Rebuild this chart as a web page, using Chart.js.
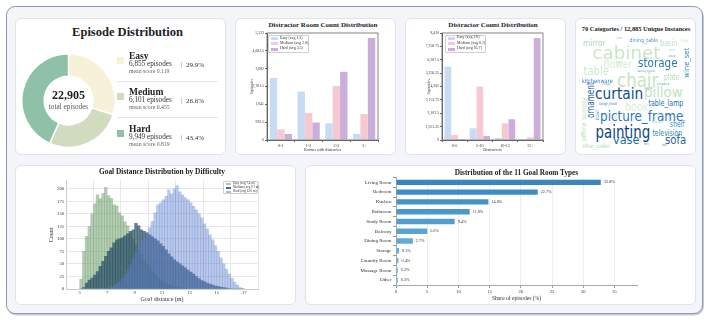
<!DOCTYPE html>
<html>
<head>
<meta charset="UTF-8">
<title>Episode Dataset Overview</title>
<script src="https://cdn.jsdelivr.net/npm/chart.js@4.4.1/dist/chart.umd.min.js"></script>
<style>
  html, body { margin: 0; padding: 0; }
  body { width: 710px; height: 321px; position: relative; overflow: hidden; background: #fff;
         font-family: 'Liberation Serif', 'Times New Roman', serif; color: #222; }
  .frame { position: absolute; left: 6px; top: 6px; width: 697px; height: 308px; box-sizing: border-box;
           border: 1.5px solid #8d9cb0; border-radius: 9px; background: #f3f5f8; box-shadow: 1px 1.5px 0 #c3ccd6; }
  .panel { position: absolute; box-sizing: border-box; background: #fff; border: 1px solid #dfe4ea; border-radius: 6px; }
  .box { position: absolute; }
  .t { position: absolute; white-space: nowrap; line-height: 1; }
  .legend { position: absolute; box-sizing: border-box; background: rgba(255,255,255,0.85); border: 0.6px solid #cfcfcf; border-radius: 1px; }
  .sw { position: absolute; }
  .word { position: absolute; white-space: nowrap; line-height: 1; font-family: 'DejaVu Sans', sans-serif; transform-origin: center center; }
</style>
</head>
<body>
<div class="frame"></div>
<div class="panel" style="left:15px;top:18px;width:211px;height:137px"></div>
<div class="panel" style="left:235px;top:18px;width:161px;height:137px"></div>
<div class="panel" style="left:405px;top:18px;width:161px;height:137px"></div>
<div class="panel" style="left:575px;top:18px;width:121px;height:137px"></div>
<div class="panel" style="left:15px;top:165px;width:281px;height:140px"></div>
<div class="panel" style="left:305px;top:165px;width:391px;height:140px"></div>

<div class="box" style="left:21px;top:53px;width:95px;height:95px"><canvas id="donut"></canvas></div>
<div class="box" style="left:249px;top:29px;width:134px;height:124px"><canvas id="roomChart"></canvas></div>
<div class="box" style="left:426px;top:29px;width:122px;height:124px"><canvas id="distChart"></canvas></div>
<div class="box" style="left:48px;top:176px;width:214px;height:128px"><canvas id="goalChart"></canvas></div>
<div class="box" style="left:350px;top:173px;width:295px;height:131px"><canvas id="typeChart"></canvas></div>

<script>
// ---- data ----
var difficulties = ['Easy', 'Medium', 'Hard'];
var episodeCounts = [6855, 6101, 9949];
var episodeShares = [29.9, 26.6, 43.4];
var meanScores = [0.119, 0.455, 0.819];
var totalEpisodes = 22905;

var roomBins = ['0-1', '1-2', '2-3', '3+'];
var roomEasy = [3200, 2500, 860, 310];
var roomMedium = [550, 1400, 2790, 1340];
var roomHard = [310, 900, 3520, 5260];
var roomAvg = [1.3, 2.0, 3.5];

var distBins = ['0-5', '5-10', '10-15', '15+'];
var distEasy = [5770, 920, 160, 10];
var distMedium = [390, 4200, 1310, 210];
var distHard = [80, 310, 1630, 8010];
var distAvg = [2.6, 8.1, 16.7];

var goalBinCenters = [5.1, 5.3, 5.5, 5.7, 5.9, 6.1, 6.3, 6.5, 6.7, 6.9,
  7.1, 7.3, 7.5, 7.7, 7.9, 8.1, 8.3, 8.5, 8.7, 8.9,
  9.1, 9.3, 9.5, 9.7, 9.9, 10.1, 10.3, 10.5, 10.7, 10.9,
  11.1, 11.3, 11.5, 11.7, 11.9, 12.1, 12.3, 12.5, 12.7, 12.9,
  13.1, 13.3, 13.5, 13.7, 13.9, 14.1, 14.3, 14.5, 14.7, 14.9,
  15.1, 15.3, 15.5, 15.7, 15.9, 16.1, 16.3, 16.5, 16.7, 16.9];
var goalEasy = [20, 75, 105, 125, 150, 170, 188, 180, 191, 203,
  186, 181, 168, 166, 152, 146, 134, 126, 112, 100,
  88, 78, 68, 58, 50, 42, 35, 29, 24, 19,
  15, 12, 9, 7, 5, 4, 3, 2, 1, 1,
  0, 0, 0, 0, 0, 0, 0, 0, 0, 0,
  0, 0, 0, 0, 0, 0, 0, 0, 0, 0];
var goalMedium = [0, 3, 12, 18, 22, 28, 35, 45, 55, 65,
  75, 82, 92, 98, 100, 102, 106, 110, 115, 118,
  131, 126, 118, 115, 112, 108, 104, 100, 96, 90,
  85, 78, 70, 64, 58, 54, 50, 46, 42, 38,
  34, 30, 25, 21, 17, 15, 12, 10, 8, 6,
  5, 4, 3, 2, 1, 0, 0, 0, 0, 0];
var goalHard = [0, 0, 0, 0, 0, 0, 0, 0, 0, 0,
  2, 4, 6, 10, 14, 20, 28, 36, 48, 60,
  72, 82, 92, 100, 112, 122, 135, 152, 168, 172,
  178, 185, 198, 190, 200, 206, 194, 188, 182, 178,
  172, 165, 158, 150, 142, 130, 120, 108, 98, 86,
  75, 62, 50, 40, 30, 22, 14, 8, 3, 1];
var goalAvg = [7.4, 9.7, 12.0];

var roomTypes = ['Living Room', 'Bedroom', 'Kitchen', 'Bathroom', 'Study Room', 'Balcony',
  'Dining Room', 'Storage', 'Laundry Room', 'Massage Room', 'Other'];
var roomTypeShare = [32.8, 22.7, 14.8, 11.8, 9.4, 5.0, 2.7, 0.5, 0.4, 0.3, 0.3];

var cloudWords = ['cabinet', 'chair', 'painting', 'curtain', 'picture_frame', 'pillow', 'storage',
  'table', 'flower', 'book', 'vase', 'sofa', 'ornament', 'table_lamp', 'mirror', 'television',
  'shelf', 'basin', 'plate', 'wine_set', 'kitchenware', 'office supply', 'other_cooker',
  'dining_table', 'range_hood', 'bowl', 'tea_set', 'tray', 'fork', 'bed', 'cook', 'desk',
  'spoon', 'chopstick', 'fridge', 'washing_machine', 'stool', 'box'];

// ---- styles ----
var donutColors = ['#f8f1d9', '#d1dbbf', '#8ec1a7'];
var pastel = ['#c7dcf3', '#f5c8d2', '#c9afd9'];
var histColors = ['rgba(103,153,101,0.5)', 'rgba(40,75,100,0.7)', 'rgba(90,125,205,0.42)'];
var legendHist = ['#a9c8a8', '#4a6d8c', '#a9bce4'];
var typeColors = ['#3a84bf', '#3f8bc3', '#4692c7', '#4d98ca', '#549ece', '#5ba3d1',
  '#63a9d4', '#6aaed6', '#72b2d8', '#79b6da', '#80badc'];

// placement of each cloud word: [centre x, centre y, length, font px, colour, vertical]
var cloudPlacement = [
  [626, 54, 68, 18, '#c9e7c6'], [637.5, 81, 41, 19, '#c6e5c3'], [622.5, 133, 55, 18, '#0b437f'],
  [619, 95, 48, 16, '#0d4f8e'], [641.5, 117, 83, 14, '#2b78b7'], [663.5, 93, 39, 14, '#c2e3c1'],
  [658, 64, 40, 12, '#2a78b6'], [595.5, 72, 25, 12, '#d0e9ce'], [617.5, 65, 29, 11, '#d4ecd1'],
  [636.5, 108, 23, 12, '#d9efd6'], [626, 140, 26, 13, '#1d67a8'], [675.5, 140, 21, 13, '#1d67a8'],
  [591.5, 100, 36, 10, '#1a5c9e', true], [665.5, 104, 35, 9, '#2673b3'], [594, 44, 22, 8, '#a9d7b6'],
  [667, 134, 30, 8, '#2f84bd'], [677, 125, 14, 8.5, '#3088be'], [668.5, 44, 17, 8, '#bde1c2'],
  [672, 78, 16, 8.5, '#b5dcbb'], [686.5, 63, 30, 7.5, '#3b8ec1', true], [597.5, 81, 31, 6, '#2f7db8'],
  [584, 120, 44, 6.5, '#b9deb9', true], [596, 146, 28, 6, '#b5dcb7'], [643.5, 41, 29, 5.5, '#4a98c3'],
  [608, 104, 18, 4, '#3a86bd'], [598, 115, 10, 4.5, '#4b9ac4', true], [657.5, 123, 11, 3.5, '#a9d5b3'],
  [684, 41, 8, 4, '#c9e6c6'], [646.5, 145, 5, 3.5, '#5aa4c9'], [664, 146, 5, 3.5, '#5aa4c9'],
  [619, 39, 6, 3, '#9bcfb0'], [672, 57, 7, 3, '#5aa4c9'], [648, 89, 8, 3, '#4a98c3'],
  [663, 85, 12, 3, '#4a98c3'], [606, 85, 8, 3, '#5aa4c9'], [646, 72, 18, 3, '#5aa4c9'],
  [619, 63, 7, 3, '#a9d5b3'], [672, 51, 5, 3, '#a9d5b3']
];

// ---- html helpers ----
function label(text, x, cy, size, opts) {
  opts = opts || {};
  var d = document.createElement('div');
  d.className = 't';
  d.textContent = text;
  d.style.left = x + 'px';
  d.style.top = cy + 'px';
  d.style.fontSize = size + 'px';
  d.style.transform = opts.center ? 'translate(-50%,-50%)' : 'translateY(-50%)';
  if (opts.bold) d.style.fontWeight = 'bold';
  if (opts.color) d.style.color = opts.color;
  document.body.appendChild(d);
  return d;
}
function rect(x, y, w, h, color) {
  var d = document.createElement('div');
  d.className = 'sw';
  d.style.cssText = 'left:' + x + 'px;top:' + y + 'px;width:' + w + 'px;height:' + h + 'px;background:' + color;
  document.body.appendChild(d);
  return d;
}
function legendBox(x, y, w, h, names, colors, firstY, gap, fs, swW, swH) {
  var b = document.createElement('div');
  b.className = 'legend';
  b.style.cssText = 'left:' + x + 'px;top:' + y + 'px;width:' + w + 'px;height:' + h + 'px';
  document.body.appendChild(b);
  names.forEach(function(n, i) {
    var cy = firstY + i * gap;
    rect(x + 2.5, cy - swH / 2, swW, swH, colors[i]);
    label(n, x + swW + 5, cy, fs, {color: '#333'});
  });
}

// ---- titles ----
label('Episode Distribution', 127.5, 32, 12.5, {center: true, bold: true});
label('Distractor Room Count Distribution', 323, 25, 7, {center: true, bold: true});
label('Distractor Count Distribution', 493, 25, 7, {center: true, bold: true});
label('70 Categories / 12,885 Unique Instances', 636, 28.5, 6.4, {center: true, bold: true});
label('Goal Distance Distribution by Difficulty', 162, 172, 7.4, {center: true, bold: true});
label('Distribution of the 11 Goal Room Types', 516.5, 172.5, 7.3, {center: true, bold: true});

// ---- donut centre + legend ----
label(totalEpisodes.toLocaleString('en-US'), 68.5, 95, 12, {center: true, bold: true});
label('total episodes', 68.5, 108, 7.2, {center: true, color: '#555'});
var rowsY = [56.5, 93, 129.5];
difficulties.forEach(function(d, i) {
  var y = rowsY[i];
  rect(117, y, 7, 7, donutColors[i]);
  label(d, 129, y, 9.5, {bold: true});
  label(episodeCounts[i].toLocaleString('en-US') + ' episodes', 129, y + 8, 7.2, {color: '#333'});
  label('mean score ' + meanScores[i].toFixed(3), 129, y + 15, 5.8, {color: '#666'});
  rect(181, y + 5, 0.7, 6, '#cfcfcf');
  label(episodeShares[i].toFixed(1) + '%', 186, y + 8, 7, {color: '#333'});
  if (i < 2) rect(117, y + 24, 101, 0.8, '#e6e6e6');
});

legendBox(268, 35, 41, 18, difficulties.map(function(d, i) { return d + ' (avg ' + roomAvg[i].toFixed(1) + ')'; }),
  pastel, 38.6, 5.3, 3.9, 7, 3);
legendBox(445, 35, 41, 17.5, difficulties.map(function(d, i) { return d + ' (avg ' + distAvg[i].toFixed(1) + ')'; }),
  pastel, 38.4, 5.3, 3.9, 7, 3);
legendBox(223, 181, 35, 12.5, difficulties.map(function(d, i) { return d + ' (avg ' + goalAvg[i].toFixed(1) + ' m)'; }),
  legendHist, 184, 3.8, 3.2, 5, 2);

// ---- word cloud ----
cloudWords.forEach(function(w, i) {
  var p = cloudPlacement[i];
  var s = document.createElement('span');
  s.className = 'word';
  s.textContent = w;
  s.style.fontSize = p[3] + 'px';
  s.style.color = p[4];
  document.body.appendChild(s);
  var nat = s.offsetWidth || 1;
  s.style.left = (p[0] - nat / 2) + 'px';
  s.style.top = (p[1] - p[3] * 0.55) + 'px';
  s.style.transform = (p[5] ? 'rotate(-90deg) ' : '') + 'scaleX(' + (p[2] / nat) + ')';
});

// ---- charts ----
Chart.defaults.font.family = "'Liberation Serif', 'Times New Roman', serif";
Chart.defaults.color = '#333';
Chart.defaults.animation = false;
Chart.defaults.plugins.legend.display = false;
Chart.defaults.plugins.tooltip.enabled = false;

var boxFrame = {
  id: 'boxFrame',
  afterDraw: function(chart) {
    var a = chart.chartArea, ctx = chart.ctx;
    ctx.save();
    ctx.strokeStyle = '#666';
    ctx.lineWidth = 0.8;
    ctx.strokeRect(a.left, a.top, a.right - a.left, a.bottom - a.top);
    ctx.restore();
  }
};

var barValues = {
  id: 'barValues',
  afterDatasetsDraw: function(chart) {
    var ctx = chart.ctx;
    ctx.save();
    ctx.font = "4.2px 'Liberation Serif', serif";
    ctx.fillStyle = '#333';
    ctx.textBaseline = 'middle';
    chart.getDatasetMeta(0).data.forEach(function(bar, i) {
      ctx.fillText(roomTypeShare[i].toFixed(1) + '%', bar.x + 3, bar.y);
    });
    ctx.restore();
  }
};

new Chart('donut', {
  type: 'doughnut',
  data: {
    labels: difficulties,
    datasets: [{ data: episodeCounts, backgroundColor: donutColors, borderColor: '#fff', borderWidth: 1.5, hoverOffset: 0 }]
  },
  options: { responsive: true, maintainAspectRatio: false, cutout: '52%' }
});

function groupedBars(id, labels, series, yMax, xTitle, yWidth) {
  return new Chart(id, {
    type: 'bar',
    data: {
      labels: labels,
      datasets: series.map(function(d, i) {
        return { label: difficulties[i], data: d, backgroundColor: pastel[i], categoryPercentage: 0.8, barPercentage: 1 };
      })
    },
    options: {
      responsive: true, maintainAspectRatio: false,
      layout: { padding: { top: 4, right: 5 } },
      scales: {
        x: {
          grid: { drawOnChartArea: false, tickLength: 2, color: '#666' },
          border: { color: '#666' },
          ticks: { font: { size: 4.2 }, padding: 1 },
          title: { display: true, text: xTitle, font: { size: 4.2 }, padding: { top: 0, bottom: 1 } },
          afterFit: function(s) { s.height = 13; }
        },
        y: {
          min: 0, max: yMax,
          grid: { drawOnChartArea: false, tickLength: 2, color: '#666' },
          border: { color: '#666' },
          ticks: { stepSize: 1000, includeBounds: false, font: { size: 3.8 }, padding: 1,
                   callback: function(v) { return v.toLocaleString('en-US'); } },
          title: { display: true, text: 'Episodes', font: { size: 4.2 }, padding: 0 },
          afterFit: function(s) { s.width = yWidth; }
        }
      }
    },
    plugins: [boxFrame]
  });
}

groupedBars('roomChart', roomBins, [roomEasy, roomMedium, roomHard], 5523, 'Rooms with distractor', 18);
groupedBars('distChart', distBins, [distEasy, distMedium, distHard], 8410, 'Distractors', 16);

var goalSeries = [goalEasy, goalMedium, goalHard];
new Chart('goalChart', {
  type: 'bar',
  data: {
    datasets: goalSeries.map(function(vals, i) {
      return {
        label: difficulties[i],
        data: goalBinCenters.map(function(x, j) { return { x: x, y: vals[j] }; }),
        backgroundColor: histColors[i],
        order: 3 - i
      };
    })
  },
  options: {
    responsive: true, maintainAspectRatio: false,
    layout: { padding: { top: 4, right: 4 } },
    datasets: { bar: { grouped: false, categoryPercentage: 1, barPercentage: 1, borderWidth: 0 } },
    scales: {
      x: {
        type: 'linear', min: 5, max: 17,
        grid: { color: '#e8e8e8', drawTicks: false },
        border: { color: '#cccccc' },
        ticks: { stepSize: 2, font: { size: 4.6 }, padding: 1 },
        title: { display: true, text: 'Goal distance (m)', font: { size: 6 }, padding: { top: 0, bottom: 1 } },
        afterFit: function(s) { s.height = 15; }
      },
      y: {
        min: 0, max: 216,
        grid: { color: '#e8e8e8', drawTicks: false },
        border: { color: '#cccccc' },
        ticks: { stepSize: 25, includeBounds: false, font: { size: 4.6 }, padding: 2 },
        title: { display: true, text: 'Count', font: { size: 6 }, padding: 0 },
        afterFit: function(s) { s.width = 18; }
      }
    }
  }
});

new Chart('typeChart', {
  type: 'bar',
  data: {
    labels: roomTypes,
    datasets: [{ data: roomTypeShare, backgroundColor: typeColors, barPercentage: 0.55, categoryPercentage: 1 }]
  },
  options: {
    indexAxis: 'y',
    responsive: true, maintainAspectRatio: false,
    layout: { padding: { top: 4, right: 8 } },
    scales: {
      x: {
        min: 0, max: 38.6,
        grid: { color: '#eeeeee', tickColor: '#999', tickLength: 3 },
        border: { color: '#aaaaaa' },
        ticks: { stepSize: 5, includeBounds: false, font: { size: 4.5 }, padding: 1 },
        title: { display: true, text: 'Share of episodes (%)', font: { size: 5.6 }, padding: { top: 0, bottom: 2.5 } },
        afterFit: function(s) { s.height = 19; }
      },
      y: {
        grid: { drawOnChartArea: false, color: '#999', tickLength: 3 },
        border: { color: '#aaaaaa' },
        ticks: { font: { size: 5 }, padding: 1.5 },
        afterFit: function(s) { s.width = 46; }
      }
    }
  },
  plugins: [barValues]
});
</script>
</body>
</html>
